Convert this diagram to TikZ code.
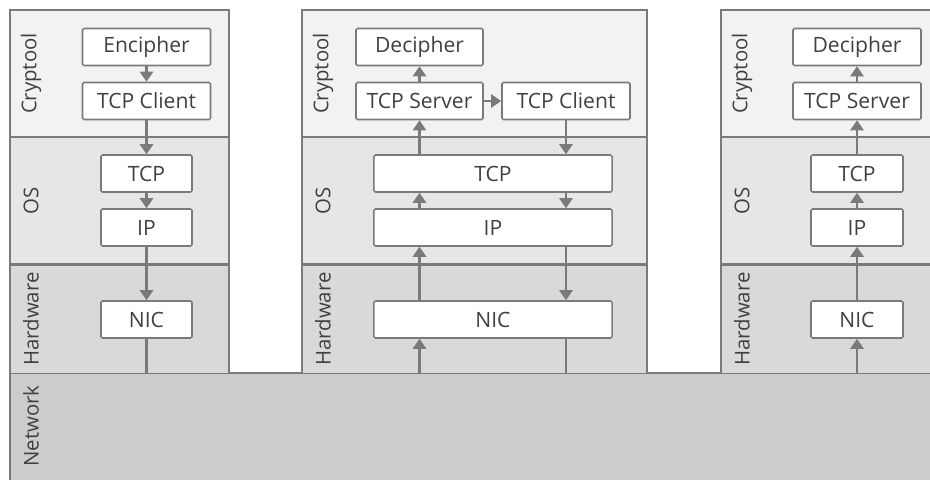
\documentclass[tikz,border=0pt]{standalone}
\usepackage{fontspec}
\setmainfont{Open Sans}
\usetikzlibrary{arrows.meta}
\definecolor{linegray}{HTML}{7A7A7A}
\definecolor{textgray}{HTML}{404040}
\definecolor{cryptofill}{HTML}{F2F2F2}
\definecolor{osfill}{HTML}{E6E6E6}
\definecolor{hwfill}{HTML}{D9D9D9}
\definecolor{netfill}{HTML}{CCCCCC}
\tikzset{
	layer/.style={draw=linegray,line width=1.5pt},
	layerlabel/.style={rotate=90,text=textgray,font=\fontsize{14.5}{16}\selectfont},
	box/.style={rectangle,draw=linegray,line width=1.1pt,rounded corners=1pt,fill=white,text=textgray,minimum height=0.925cm,inner sep=0pt,font=\fontsize{15}{17}\selectfont},
	flow/.style={draw=linegray,line width=1.5pt,-{Triangle[width=0.33cm,length=0.25cm]}},
	wire/.style={draw=linegray,line width=1.5pt},
}
\begin{document}
\begin{tikzpicture}[x=0.025cm,y=-0.025cm]
	\clip (0,0) rectangle (930,480);
	% network
	\fill[netfill] (10,373) rectangle (940,490);
	\draw[layer] (10,490) -- (10,373) -- (940,373);
	\node[layerlabel] (net) at (31,426) {Network};
	% the three stacks
	\foreach \l/\r in {10/229, 302/647, 721/940} {
		\fill[cryptofill] (\l,10) rectangle (\r,137);
		\fill[osfill] (\l,137) rectangle (\r,264.5);
		\fill[hwfill] (\l,264.5) rectangle (\r,373);
		\draw[layer] (\l,373) -- (\l,10) -- (\r,10) -- (\r,373);
		\draw[layer] (\l,137) -- (\r,137);
		\draw[layer] (\l,264.5) -- (\r,264.5);
		\node[layerlabel] (crypt-\l) at ({\l+21},73.5) {Cryptool};
		\node[layerlabel] (os-\l) at ({\l+21},201) {OS};
		\node[layerlabel] (hw-\l) at ({\l+21},319) {Hardware};
	}
	% sender
	\node[box,minimum width=3.2cm] (encipher) at (146.5,47) {Encipher};
	\node[box,minimum width=3.2cm] (lclient) at (146.5,101) {TCP Client};
	\node[box,minimum width=2.275cm] (ltcp) at (146.5,173.5) {TCP};
	\node[box,minimum width=2.275cm] (lip) at (146.5,227.5) {IP};
	\node[box,minimum width=2.275cm] (lnic) at (146.5,319.5) {NIC};
	\coordinate (lnet) at (146.5,373);
	\draw[flow] (encipher) -- (lclient);
	\draw[flow] (lclient) -- (ltcp);
	\draw[flow] (ltcp) -- (lip);
	\draw[flow] (lip) -- (lnic);
	\draw[wire] (lnic) -- (lnet);
	% relay
	\node[box,minimum width=3.175cm] (mdecipher) at (419.5,47) {Decipher};
	\node[box,minimum width=3.175cm] (mserver) at (419.5,101) {TCP Server};
	\node[box,minimum width=3.2cm] (mclient) at (566,101) {TCP Client};
	\node[box,minimum width=5.95cm] (mtcp) at (493,173.5) {TCP};
	\node[box,minimum width=5.95cm] (mip) at (493,227.5) {IP};
	\node[box,minimum width=5.95cm] (mnic) at (493,319.5) {NIC};
	\coordinate (mup) at (419.5,373);
	\coordinate (mdown) at (566,373);
	\draw[flow] (mup) -- (mup |- mnic.south);
	\draw[flow] (mnic.north -| mup) -- (mip.south -| mup);
	\draw[flow] (mip.north -| mup) -- (mtcp.south -| mup);
	\draw[flow] (mtcp.north -| mup) -- (mserver);
	\draw[flow] (mserver) -- (mdecipher);
	\draw[flow] (mserver) -- (mclient);
	\draw[flow] (mclient) -- (mclient |- mtcp.north);
	\draw[flow] (mtcp.south -| mdown) -- (mip.north -| mdown);
	\draw[flow] (mip.south -| mdown) -- (mnic.north -| mdown);
	\draw[wire] (mnic.south -| mdown) -- (mdown);
	% receiver
	\node[box,minimum width=3.2cm] (rdecipher) at (857,47) {Decipher};
	\node[box,minimum width=3.2cm] (rserver) at (857,101) {TCP Server};
	\node[box,minimum width=2.3cm] (rtcp) at (857,173.5) {TCP};
	\node[box,minimum width=2.3cm] (rip) at (857,227.5) {IP};
	\node[box,minimum width=2.3cm] (rnic) at (857,319.5) {NIC};
	\coordinate (rnet) at (857,373);
	\draw[flow] (rnet) -- (rnic);
	\draw[flow] (rnic) -- (rip);
	\draw[flow] (rip) -- (rtcp);
	\draw[flow] (rtcp) -- (rserver);
	\draw[flow] (rserver) -- (rdecipher);
\end{tikzpicture}
\end{document}
